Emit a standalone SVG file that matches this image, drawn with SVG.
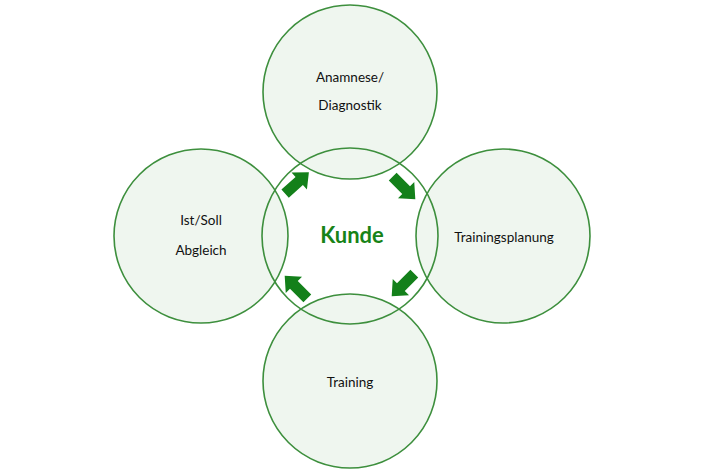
<svg xmlns="http://www.w3.org/2000/svg" width="706" height="472" viewBox="0 0 706 472">
<style>
.fillc{fill:#eff6ef;stroke:none}
.ring{fill:none;stroke:#3d8f3d;stroke-width:1.6}
.lbl{font-family:Lato,"Liberation Sans",sans-serif;font-size:13.5px;fill:#111;text-anchor:middle}
.kunde{font-family:Lato,"Liberation Sans",sans-serif;font-size:22px;font-weight:bold;fill:#178317;text-anchor:middle}
.arr{fill:#13801a}
</style>
<defs>
<polygon id="arrow" points="-16,-5.5 3,-5.5 3,-11.5 16,0 3,11.5 3,5.5 -16,5.5"/>
</defs>
<rect width="706" height="472" fill="#fff"/>
<g id="fills">
<circle class="fillc" cx="350" cy="92" r="87"/>
<circle class="fillc" cx="201" cy="236" r="87"/>
<circle class="fillc" cx="503" cy="236" r="87"/>
<circle class="fillc" cx="350" cy="381" r="87"/>
</g>
<g id="node-top"><circle class="ring" cx="350" cy="92" r="87"/><text class="lbl" x="350" y="82">Anamnese/</text><text class="lbl" x="350" y="110">Diagnostik</text></g>
<g id="node-left"><circle class="ring" cx="201" cy="236" r="87"/><text class="lbl" x="201" y="225">Ist/Soll</text><text class="lbl" x="201" y="255">Abgleich</text></g>
<g id="node-right"><circle class="ring" cx="503" cy="236" r="87"/><text class="lbl" x="504" y="242">Trainingsplanung</text></g>
<g id="node-bottom"><circle class="ring" cx="350" cy="381" r="87"/><text class="lbl" x="350" y="387">Training</text></g>
<g id="node-center"><circle class="ring" cx="350" cy="236" r="88"/><text class="kunde" x="352" y="243">Kunde</text></g>
<g id="connectors">
<use href="#arrow" class="arr" transform="translate(297,183) rotate(-42)"/>
<use href="#arrow" class="arr" transform="translate(404,188) rotate(45)"/>
<use href="#arrow" class="arr" transform="translate(403,285) rotate(135)"/>
<use href="#arrow" class="arr" transform="translate(296,287) rotate(-135)"/>
</g>
</svg>
